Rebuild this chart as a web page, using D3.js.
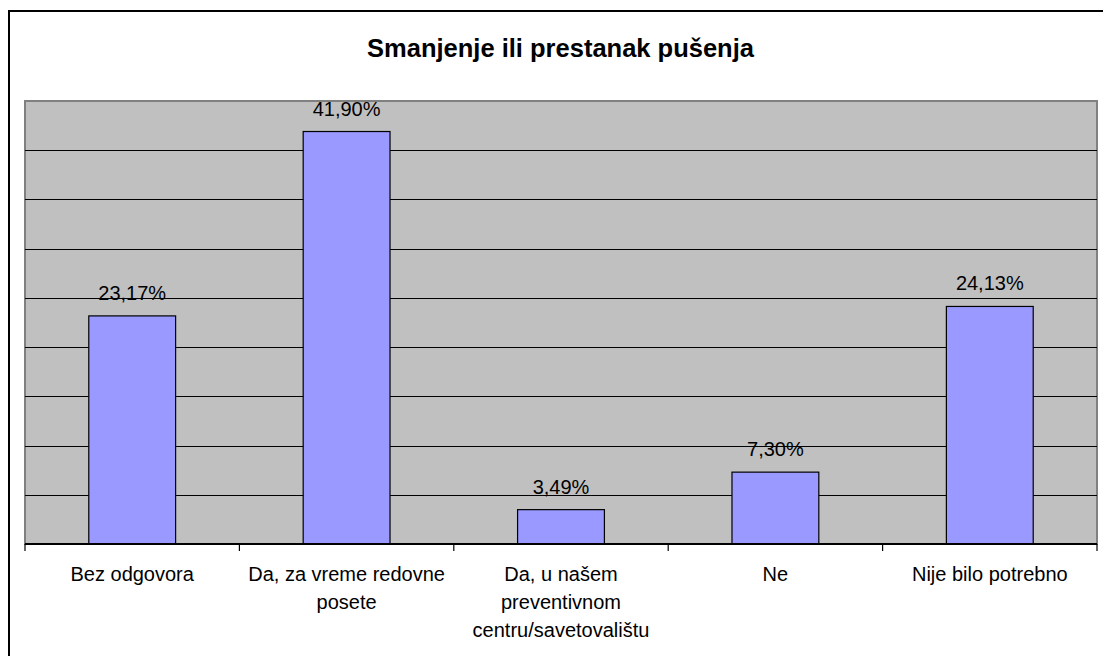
<!DOCTYPE html>
<html>
<head>
<meta charset="utf-8">
<script src="https://cdn.jsdelivr.net/npm/d3@7"></script>
<style>
  html, body { margin: 0; padding: 0; background: #fff; overflow: hidden; }
  svg { display: block; }
</style>
</head>
<body>
<svg id="chart" width="1103" height="656"></svg>
<script>
const title = "Smanjenje ili prestanak pušenja";
const categories = [
  ["Bez odgovora"],
  ["Da, za vreme redovne", "posete"],
  ["Da, u našem", "preventivnom", "centru/savetovalištu"],
  ["Ne"],
  ["Nije bilo potrebno"]
];
const values = [23.17, 41.90, 3.49, 7.30, 24.13];
const labels = ["23,17%", "41,90%", "3,49%", "7,30%", "24,13%"];
const yTicks = [0, 5, 10, 15, 20, 25, 30, 35, 40, 45];

const svg = d3.select("#chart");
const font = "Arial, 'Liberation Sans', sans-serif";

// outer chart border (extends beyond viewport on right/bottom)
svg.append("rect")
  .attr("x", 9).attr("y", 11)
  .attr("width", 1110).attr("height", 660)
  .attr("fill", "#fff").attr("stroke", "#000").attr("stroke-width", 2);

const plot = { left: 25, right: 1097, top: 101, bottom: 544 };

const x = d3.scaleBand()
  .domain(d3.range(categories.length))
  .range([plot.left, plot.right])
  .paddingInner(0).paddingOuter(0);

const y = d3.scaleLinear().domain([0, 45]).range([plot.bottom, plot.top]);

// plot area
svg.append("rect")
  .attr("x", plot.left).attr("y", plot.top)
  .attr("width", plot.right - plot.left).attr("height", plot.bottom - plot.top)
  .attr("fill", "#c0c0c0").attr("stroke", "#808080").attr("stroke-width", 2);

// gridlines
svg.append("g").selectAll("line")
  .data(yTicks.filter(t => t > 0 && t < 45))
  .join("line")
  .attr("x1", plot.left).attr("x2", plot.right)
  .attr("y1", d => Math.round(y(d)) + 0.5).attr("y2", d => Math.round(y(d)) + 0.5)
  .attr("stroke", "#000").attr("stroke-width", 1.2);

// bars
const barW = x.bandwidth() * 0.405;
svg.append("g").selectAll("rect")
  .data(values)
  .join("rect")
  .attr("x", (d, i) => x(i) + (x.bandwidth() - barW) / 2)
  .attr("y", d => y(d))
  .attr("width", barW)
  .attr("height", d => y(0) - y(d))
  .attr("fill", "#9999ff")
  .attr("stroke", "#000").attr("stroke-width", 1.2);

// x axis
const xAxis = svg.append("g");
xAxis.append("line")
  .attr("x1", plot.left).attr("x2", plot.right)
  .attr("y1", plot.bottom).attr("y2", plot.bottom)
  .attr("stroke", "#000").attr("stroke-width", 2);
const tickPos = d3.range(categories.length + 1).map(i => i < categories.length ? x(i) : x(categories.length - 1) + x.bandwidth());
xAxis.selectAll("line.tick")
  .data(tickPos)
  .join("line")
  .attr("class", "tick")
  .attr("x1", d => d).attr("x2", d => d)
  .attr("y1", plot.bottom).attr("y2", plot.bottom + 7)
  .attr("stroke", "#000").attr("stroke-width", 1.2);

// category labels
const catG = svg.append("g");
categories.forEach((lines, i) => {
  const t = catG.append("text")
    .attr("x", x(i) + x.bandwidth() / 2)
    .attr("y", 581)
    .attr("text-anchor", "middle")
    .attr("font-family", font).attr("font-size", 20).attr("fill", "#000");
  lines.forEach((ln, j) => {
    t.append("tspan").attr("x", x(i) + x.bandwidth() / 2).attr("dy", j === 0 ? 0 : 28).text(ln);
  });
});

// data labels
svg.append("g").selectAll("text")
  .data(values)
  .join("text")
  .attr("x", (d, i) => x(i) + x.bandwidth() / 2)
  .attr("y", d => y(d) - 16)
  .attr("text-anchor", "middle")
  .attr("font-family", font).attr("font-size", 20).attr("fill", "#000")
  .text((d, i) => labels[i]);

// title
svg.append("text")
  .attr("x", 560.5).attr("y", 57)
  .attr("text-anchor", "middle")
  .attr("font-family", font).attr("font-size", 25.5).attr("font-weight", "bold")
  .attr("fill", "#000")
  .text(title);
</script>
</body>
</html>
